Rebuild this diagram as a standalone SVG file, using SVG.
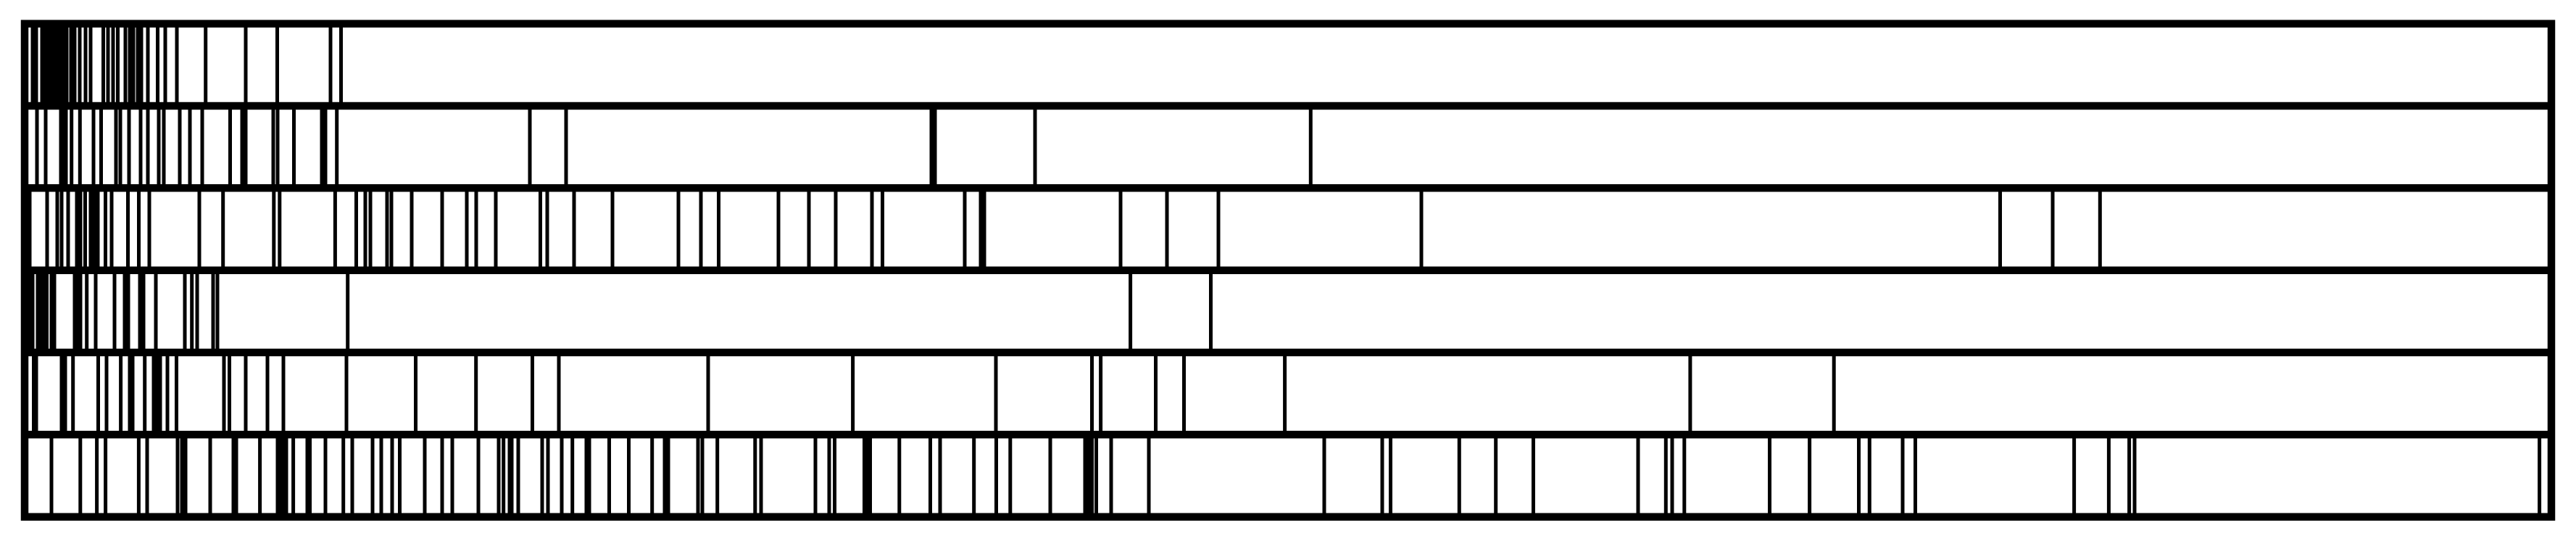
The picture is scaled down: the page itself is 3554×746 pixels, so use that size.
<svg xmlns="http://www.w3.org/2000/svg" width="3554" height="746" viewBox="0 0 3554 746">
<style>
.v{fill:none;stroke:#000;stroke-width:5}
.g{fill:none;stroke:#000;stroke-width:10.5}
</style>
<rect x="0" y="0" width="3554" height="746" fill="#fff"/>
<g id="row1"><path class="v" d="M45 33V146M50 33V146M58 33V146M62 33V146M67 33V146M72 33V146M77 33V146M82 33V146M87 33V146M92 33V146M98 33V146M103 33V146M110 33V146M118 33V146M125 33V146M142.5 33V146M149 33V146M156 33V146M162.5 33V146M173 33V146M179 33V146M184 33V146M190 33V146M195 33V146M204 33V146M217.5 33V146M228 33V146M244 33V146M283.7 33V146M339 33V146M382.5 33V146M456 33V146M470.5 33V146"/></g>
<g id="row2"><path class="v" d="M51 146V259M63 146V259M84 146V259M88 146V259M91 146V259M98.7 146V259M110.3 146V259M129 146V259M139.5 146V259M160 146V259M166 146V259M178 146V259M194 146V259M204 146V259M219 146V259M226 146V259M248 146V259M262 146V259M279 146V259M317.5 146V259M334 146V259M339 146V259M377 146V259M383 146V259M405.5 146V259M444 146V259M449 146V259M464.7 146V259M731 146V259M781 146V259M1285 146V259M1290 146V259M1428 146V259M1808.3 146V259"/></g>
<g id="row3"><path class="v" d="M41 259V373M65 259V373M79 259V373M85 259V373M94 259V373M106 259V373M111 259V373M117.5 259V373M125 259V373M130 259V373M135 259V373M145.5 259V373M154 259V373M176.5 259V373M191.5 259V373M206 259V373M275 259V373M307.7 259V373M377.8 259V373M385.8 259V373M462.4 259V373M491.5 259V373M504 259V373M511 259V373M534 259V373M540 259V373M568 259V373M610 259V373M644 259V373M657 259V373M684 259V373M745.5 259V373M755 259V373M792 259V373M845 259V373M936 259V373M967 259V373M991.5 259V373M1074 259V373M1116 259V373M1153 259V373M1203 259V373M1217.5 259V373M1331 259V373M1353 259V373M1358 259V373M1546 259V373M1610 259V373M1681 259V373M1961 259V373M2759.5 259V373M2832 259V373M2897.3 259V373"/></g>
<g id="row4"><path class="v" d="M41 373V486M45 373V486M52 373V486M56 373V486M60 373V486M64.5 373V486M71 373V486M75 373V486M103 373V486M106 373V486M111 373V486M119.7 373V486M132 373V486M158 373V486M172 373V486M177 373V486M193 373V486M198 373V486M215 373V486M255 373V486M264.7 373V486M272 373V486M294 373V486M300 373V486M479.7 373V486M1559.6 373V486M1670.5 373V486"/></g>
<g id="row5"><path class="v" d="M46.5 486V599M50 486V599M85 486V599M90 486V599M100.7 486V599M135.5 486V599M147 486V599M166.6 486V599M179 486V599M183 486V599M199.7 486V599M212 486V599M217 486V599M221 486V599M231 486V599M243.5 486V599M309 486V599M316.5 486V599M339 486V599M369 486V599M391 486V599M478 486V599M573.5 486V599M656.7 486V599M734.5 486V599M771 486V599M977 486V599M1176.6 486V599M1374 486V599M1506.5 486V599M1518.6 486V599M1594.5 486V599M1633.5 486V599M1772.6 486V599M2331.9 486V599M2530.2 486V599"/></g>
<g id="row6"><path class="v" d="M71 599V713M110.8 599V713M133.6 599V713M145.6 599V713M191.4 599V713M203 599V713M245 599V713M251 599V713M256 599V713M290 599V713M322 599V713M326 599V713M358.6 599V713M383 599V713M388 599V713M392 599V713M395 599V713M404.6 599V713M424 599V713M427.5 599V713M449 599V713M473.7 599V713M486 599V713M514 599V713M526 599V713M541 599V713M551.5 599V713M586 599V713M610 599V713M624 599V713M660 599V713M688 599V713M694.7 599V713M703 599V713M706 599V713M715 599V713M748 599V713M756 599V713M775 599V713M789.7 599V713M809 599V713M813 599V713M840.5 599V713M867.5 599V713M899.7 599V713M917 599V713M922 599V713M963 599V713M969 599V713M989.7 599V713M1041.8 599V713M1050 599V713M1125 599V713M1144 599V713M1151.5 599V713M1192.5 599V713M1196 599V713M1200.5 599V713M1240.8 599V713M1283.5 599V713M1297 599V713M1343.7 599V713M1374.5 599V713M1393.8 599V713M1449 599V713M1497 599V713M1502 599V713M1506.5 599V713M1512.5 599V713M1533 599V713M1585 599V713M1827 599V713M1907 599V713M1918.5 599V713M2013.3 599V713M2063.7 599V713M2115.5 599V713M2260 599V713M2298.3 599V713M2307 599V713M2323.8 599V713M2441.5 599V713M2496.6 599V713M2564.5 599V713M2579.3 599V713M2625 599V713M2642.5 599V713M2861.6 599V713M2909.4 599V713M2937.6 599V713M2945 599V713M3503.6 599V713"/></g>
<g id="grid"><rect class="g" x="34" y="32.7" width="3486" height="680"/><path class="g" d="M34 146H3520M34 259.3H3520M34 372.7H3520M34 486H3520M34 599.3H3520"/></g>
</svg>
